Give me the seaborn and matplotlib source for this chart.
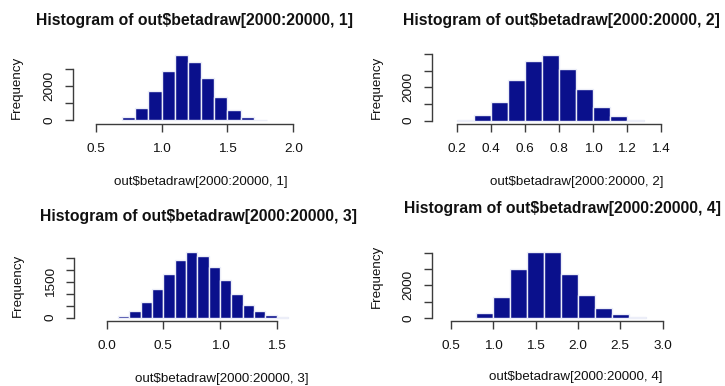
import numpy as np
import pandas as pd
import matplotlib
matplotlib.use("Agg")
import matplotlib.pyplot as plt
import seaborn as sns

# ---------------- data ----------------
p1_edges = [0.7, 0.8, 0.9, 1.0, 1.1, 1.2, 1.3, 1.4, 1.5, 1.6, 1.7, 1.8]
p1_counts = [180, 710, 1690, 2900, 3820, 3450, 2510, 1370, 590, 160, 20]
p1_xticks = [0.5, 1.0, 1.5, 2.0]
p1_yticks = [0, 1000, 2000, 3000]
p1_ylabels = ["0", "", "2000", ""]

p2_edges = [0.2, 0.3, 0.4, 0.5, 0.6, 0.7, 0.8, 0.9, 1.0, 1.1, 1.2, 1.3]
p2_counts = [60, 340, 1100, 2420, 3600, 3940, 3080, 1880, 800, 260, 40]
p2_xticks = [0.2, 0.4, 0.6, 0.8, 1.0, 1.2, 1.4]
p2_yticks = [0, 1000, 2000, 3000, 4000]
p2_ylabels = ["0", "", "2000", "", ""]

p3_edges = [0.1, 0.2, 0.3, 0.4, 0.5, 0.6, 0.7, 0.8, 0.9, 1.0, 1.1, 1.2, 1.3, 1.4, 1.5, 1.6]
p3_counts = [70, 270, 650, 1210, 1840, 2420, 2750, 2610, 2150, 1590, 1000, 550, 300, 100, 15]
p3_xticks = [0.0, 0.5, 1.0, 1.5]
p3_yticks = [0, 500, 1000, 1500, 2000, 2500]
p3_ylabels = ["0", "", "", "1500", "", ""]

p4_edges = [0.8, 1.0, 1.2, 1.4, 1.6, 1.8, 2.0, 2.2, 2.4, 2.6, 2.8]
p4_counts = [310, 1270, 2980, 4020, 4020, 2710, 1430, 590, 250, 40]
p4_xticks = [0.5, 1.0, 1.5, 2.0, 2.5, 3.0]
p4_yticks = [0, 1000, 2000, 3000, 4000]
p4_ylabels = ["0", "", "2000", "", ""]

titles = ["Histogram of out\\$betadraw[2000:20000, 1]",
          "Histogram of out\\$betadraw[2000:20000, 2]",
          "Histogram of out\\$betadraw[2000:20000, 3]",
          "Histogram of out\\$betadraw[2000:20000, 4]"]
xlabels = ["out\\$betadraw[2000:20000, 1]",
           "out\\$betadraw[2000:20000, 2]",
           "out\\$betadraw[2000:20000, 3]",
           "out\\$betadraw[2000:20000, 4]"]
ylabel_text = "Frequency"

# ---------------- style ----------------
sns.set_theme(style="white")
plt.rcParams["font.family"] = ["Liberation Sans", "DejaVu Sans"]

W, H = 725, 386
fig = plt.figure(figsize=(W / 100, H / 100), dpi=100)
fig.patch.set_facecolor("white")

BAR = "#0a108c"
EDGE = "#eceef8"
AXC = "#3c3c3c"
TXT = "#111111"

# layout (pixel positions)
layouts = [
    dict(yaxis=72.7, xaxis=124.0, xv=(0.5, 2.0), xp=(95.7, 293.3), yv=(0, 3000), yp=(120.0, 69.3),
         right=300, top=45, title=(195, 20), xlab=(200.5, 181.7), ylab=(16.7, 87.5)),
    dict(yaxis=431.7, xaxis=124.0, xv=(0.2, 1.4), xp=(457.3, 660.7), yv=(0, 4000), yp=(120.7, 54.0),
         right=668, top=45, title=(561, 20.5), xlab=(576.5, 181.7), ylab=(376.7, 87.5)),
    dict(yaxis=74.0, xaxis=320.5, xv=(0.0, 1.5), xp=(106.7, 276.7), yv=(0, 2500), yp=(317.7, 258.3),
         right=300, top=242, title=(198, 216.5), xlab=(221.5, 379), ylab=(18.3, 285.7)),
    dict(yaxis=432.0, xaxis=320.5, xv=(0.5, 3.0), xp=(450.7, 662.7), yv=(0, 4000), yp=(318.0, 252.7),
         right=670, top=242, title=(563, 209), xlab=(576, 377), ylab=(376.7, 276)),
]

panels = [
    (p1_edges, p1_counts, p1_xticks, p1_yticks, p1_ylabels),
    (p2_edges, p2_counts, p2_xticks, p2_yticks, p2_ylabels),
    (p3_edges, p3_counts, p3_xticks, p3_yticks, p3_ylabels),
    (p4_edges, p4_counts, p4_xticks, p4_yticks, p4_ylabels),
]

for i, ((edges, counts, xt, yt, ylabs), L) in enumerate(zip(panels, layouts)):
    left, bottom, right, top = L["yaxis"], L["xaxis"], L["right"], L["top"]
    ax = fig.add_axes([left / W, 1 - bottom / H, (right - left) / W, (bottom - top) / H])
    e = np.asarray(edges, dtype=float)
    df = pd.DataFrame({"value": (e[:-1] + e[1:]) / 2, "count": np.asarray(counts, dtype=float)})
    sns.histplot(data=df, x="value", weights="count", bins=list(edges), ax=ax, color=BAR,
                 edgecolor=EDGE, linewidth=1.0, alpha=1.0)
    # limits from pixel mapping
    xs = (L["xp"][1] - L["xp"][0]) / (L["xv"][1] - L["xv"][0])
    ax.set_xlim(L["xv"][0] + (left - L["xp"][0]) / xs, L["xv"][0] + (right - L["xp"][0]) / xs)
    ys = (L["yp"][0] - L["yp"][1]) / (L["yv"][1] - L["yv"][0])
    ax.set_ylim(L["yv"][0] - (bottom - L["yp"][0]) / ys, L["yv"][0] + (L["yp"][0] - top) / ys)

    ax.set_xlabel("")
    ax.set_ylabel("")
    ax.set_facecolor("none")
    for s in ["top", "right"]:
        ax.spines[s].set_visible(False)
    for s in ["left", "bottom"]:
        ax.spines[s].set_color(AXC)
        ax.spines[s].set_linewidth(1.0)
    ax.spines["bottom"].set_bounds(xt[0], xt[-1])
    ax.spines["left"].set_bounds(yt[0], yt[-1])
    ax.set_xticks(xt)
    ax.set_xticklabels([f"{v:.1f}" for v in xt])
    ax.set_yticks(yt)
    ax.set_yticklabels(ylabs)
    ax.tick_params(axis="both", which="major", direction="out", length=5.5, width=1.0,
                   color=AXC, labelcolor=TXT, labelsize=9.7, bottom=True, left=True)
    ax.tick_params(axis="x", pad=8.5)
    ax.tick_params(axis="y", pad=7, labelrotation=90)
    for lab in ax.get_yticklabels():
        lab.set_verticalalignment("center")
    ax.grid(False)

    tx, ty = L["title"]
    fig.text(tx / W, 1 - ty / H, titles[i], ha="center", va="center",
             fontsize=11.3, fontweight="bold", color=TXT)
    lx, ly = L["xlab"]
    fig.text(lx / W, 1 - ly / H, xlabels[i], ha="center", va="center",
             fontsize=9.6, color=TXT)
    yx, yy = L["ylab"]
    fig.text(yx / W, 1 - yy / H, ylabel_text, ha="center", va="center",
             rotation=90, fontsize=9.6, color=TXT)

fig.savefig("out.png", dpi=100, facecolor="white")
